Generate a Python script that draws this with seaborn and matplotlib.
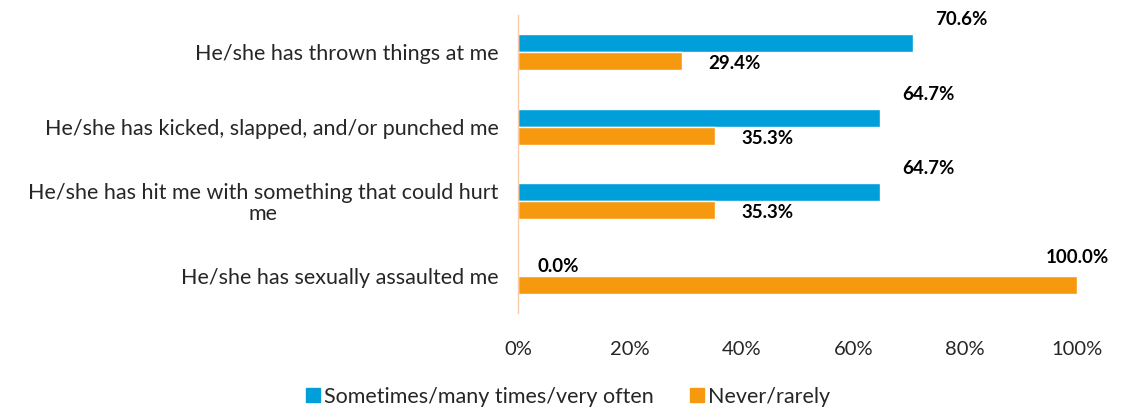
import pandas as pd
import matplotlib.pyplot as plt
import seaborn as sns
from matplotlib.lines import Line2D

sns.set_theme(style="white")
plt.rcParams['font.family'] = ['Lato', 'DejaVu Sans']

# datos
categorias = ['He/she has thrown things at me',
              'He/she has kicked, slapped, and/or punched me',
              'He/she has hit me with something that could hurt\nme',
              'He/she has sexually assaulted me']
series = ['Sometimes/many times/very often', 'Never/rarely']
frecuente = [70.6, 64.7, 64.7, 0.0]
nunca = [29.4, 35.3, 35.3, 100.0]
colores = ['#009FDA', '#F7990E']

df = pd.DataFrame({
    'categoria': categorias * 2,
    'serie': [series[0]] * 4 + [series[1]] * 4,
    'valor': frecuente + nunca,
})

fig = plt.figure(figsize=(11.3, 4.12), dpi=100)
ax = fig.add_axes([0.4584, 0.24, 0.4947, 0.724])

sns.barplot(data=df, y='categoria', x='valor', hue='serie', orient='h',
            palette=colores, width=0.48, saturation=1, legend=False, ax=ax)

# etiquetas de valor
for i, cont in enumerate(ax.containers):
    for bar, v in zip(cont, cont.datavalues):
        yc = bar.get_y() + bar.get_height() / 2
        if i == 0:
            off, ha = ((14, 0) if v == 0 else (16, 17)), 'left'
        else:
            off, ha = ((0, 20) if v >= 100 else (19, -2)), ('center' if v >= 100 else 'left')
        ax.annotate(f'{v:.1f}%', (v, yc), xytext=off, textcoords='offset points',
                    ha=ha, va='center', fontsize=13.5, fontweight='bold', color='black')

ax.set_xlim(0, 100)
ax.set_xticks([0, 20, 40, 60, 80, 100])
ax.set_xticklabels([f'{t}%' for t in range(0, 101, 20)], fontsize=14.5)
ax.tick_params(axis='x', pad=20, length=0)
ax.tick_params(axis='y', pad=14, length=0)
for lbl in ax.get_yticklabels():
    lbl.set_fontsize(15.5)
    lbl.set_multialignment('center')
    lbl.set_linespacing(1.05)
ax.set_xlabel('')
ax.set_ylabel('')
for s in ['top', 'right', 'bottom']:
    ax.spines[s].set_visible(False)
ax.spines['left'].set_color('#F8CBAD')
ax.spines['left'].set_linewidth(1)

handles = [Line2D([], [], marker='s', linestyle='', markersize=10, color=c) for c in colores]
fig.legend(handles, series, loc='center', bbox_to_anchor=(0.502, 0.037), ncol=2,
           frameon=False, fontsize=15.5, handletextpad=0.1, columnspacing=1.6,
           handlelength=0.8)

fig.savefig('out.png', dpi=100)
